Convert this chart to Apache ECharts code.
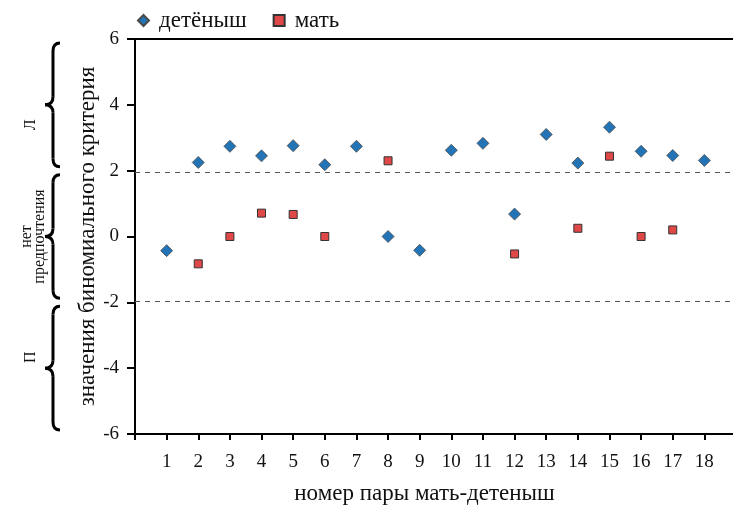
<!DOCTYPE html>
<html>
<head>
<meta charset="utf-8">
<script src="https://cdn.jsdelivr.net/npm/echarts@6/dist/echarts.min.js"></script>
<style>
html, body { margin: 0; padding: 0; background: #fff; }
#chart { width: 733px; height: 507px; }
</style>
</head>
<body>
<div id="chart"></div>
<script>
// pair numbers (mother-offspring)
const pairs = [1, 2, 3, 4, 5, 6, 7, 8, 9, 10, 11, 12, 13, 14, 15, 16, 17, 18];
// binomial test values, offspring
const cubValues = [-0.43, 2.25, 2.74, 2.45, 2.76, 2.18, 2.74, 0.0, -0.42, 2.62, 2.83, 0.68, 3.10, 2.23, 3.32, 2.59, 2.46, 2.31];
// binomial test values, mother (null = no value)
const motherValues = [null, -0.83, 0.0, 0.71, 0.67, 0.0, null, 2.30, null, null, null, -0.53, null, 0.25, 2.44, 0.0, 0.20, null];
// y-axis ticks
const yTicks = [-6, -4, -2, 0, 2, 4, 6];
// significance thresholds
const thresholds = [1.96, -1.96];
// preference zones on the left: [from, to, label]
const zones = [
  [6, 2, 'Л'],
  [2, -2, 'нет\nпредпочтения'],
  [-2, -6, 'П']
];

const FONT = '"Liberation Serif", "Times New Roman", serif';

function toPoints(vals) {
  const out = [];
  vals.forEach((v, i) => { if (v !== null) out.push([pairs[i], v]); });
  return out;
}

const chart = echarts.init(document.getElementById('chart'));

chart.setOption({
  animation: false,
  textStyle: { fontFamily: FONT },
  legend: {
    left: 132,
    top: 4,
    itemWidth: 11,
    itemHeight: 11,
    itemGap: 26,
    textStyle: { fontFamily: FONT, fontSize: 23, color: '#111', padding: [0, 0, 0, 5] },
    data: [
      { name: 'детёныш', icon: 'diamond' },
      { name: 'мать', icon: 'rect' }
    ]
  },
  grid: { left: 135, top: 39, right: -3, bottom: 73, containLabel: false, outerBoundsMode: 'none' },
  xAxis: [{
    type: 'value',
    min: 0,
    max: pairs.length + 1,
    interval: 1,
    name: 'номер пары мать-детеныш',
    nameLocation: 'middle',
    nameGap: 48,
    nameMoveOverlap: false,
    nameTextStyle: { fontFamily: FONT, fontSize: 23, color: '#111', padding: [0, 22, 0, 0] },
    axisLine: { onZero: false, lineStyle: { color: '#000', width: 2 } },
    axisTick: { length: 6, lineStyle: { color: '#000', width: 2 } },
    splitLine: { show: false },
    axisLabel: {
      fontFamily: FONT, fontSize: 19, color: '#111', margin: 19,
      formatter: v => (pairs.indexOf(v) >= 0 ? String(v) : '')
    }
  }, {
    type: 'value',
    position: 'top',
    min: 0,
    max: pairs.length + 1,
    axisLine: { show: true, onZero: false, lineStyle: { color: '#000', width: 2 } },
    axisTick: { show: false },
    axisLabel: { show: false },
    splitLine: { show: false }
  }],
  yAxis: {
    type: 'value',
    min: yTicks[0],
    max: yTicks[yTicks.length - 1],
    interval: 2,
    name: 'значения биномиального критерия',
    nameLocation: 'middle',
    nameGap: 36,
    nameMoveOverlap: false,
    nameTextStyle: { fontFamily: FONT, fontSize: 23, color: '#111' },
    axisLine: { onZero: false, lineStyle: { color: '#000', width: 2 } },
    axisTick: { length: 8, lineStyle: { color: '#000', width: 2 } },
    splitLine: { show: false },
    axisLabel: { fontFamily: FONT, fontSize: 19, color: '#111', margin: 16 }
  },
  series: [{
    name: 'детёныш',
    type: 'scatter',
    symbol: 'diamond',
    symbolSize: 12,
    itemStyle: { color: '#2374b6', borderColor: '#4a4a4a', borderWidth: 0.8, opacity: 1 },
    data: toPoints(cubValues),
    z: 3,
    markLine: {
      silent: true,
      symbol: 'none',
      label: { show: false },
      lineStyle: { color: '#555', type: [5, 5], width: 1 },
      data: thresholds.map(t => ({ yAxis: t }))
    }
  }, {
    name: 'мать',
    type: 'scatter',
    symbol: 'rect',
    symbolSize: 8,
    itemStyle: { color: '#e04848', borderColor: '#333', borderWidth: 1, opacity: 1 },
    data: toPoints(motherValues),
    z: 4
  }]
});

// curly braces with zone labels left of the y axis
const braceStyle = { stroke: '#000', lineWidth: 3, fill: null };
function braceParts(x, y1, y2) {
  const tipX = x - 8, endX = x + 7, r = 8;
  const mid = (y1 + y2) / 2;
  const curve = (x1, yy1, cx, cy, x2, yy2) => ({
    type: 'bezierCurve',
    shape: { x1: x1, y1: yy1, cpx1: cx, cpy1: cy, x2: x2, y2: yy2 },
    style: braceStyle
  });
  const line = (yy1, yy2) => ({
    type: 'line',
    shape: { x1: x, y1: yy1, x2: x, y2: yy2 },
    style: braceStyle
  });
  return [
    curve(endX, y1, x, y1, x, y1 + r),
    line(y1 + r, mid - r),
    curve(x, mid - r, x, mid, tipX, mid),
    curve(tipX, mid, x, mid, x, mid + r),
    line(mid + r, y2 - r),
    curve(x, y2 - r, x, y2, endX, y2)
  ];
}

// vertical shift of each zone label relative to its brace tip
const labelShift = [20, 0, -11];

const graphics = [];
zones.forEach(([from, to, label], i) => {
  const yA = chart.convertToPixel({ yAxisIndex: 0 }, from) + 4;
  const yB = chart.convertToPixel({ yAxisIndex: 0 }, to) - 4;
  braceParts(53, yA, yB).forEach(p => graphics.push(p));
  graphics.push({
    type: 'text',
    x: label.length === 1 ? 31 : 33,
    y: (yA + yB) / 2 + labelShift[i],
    rotation: Math.PI / 2,
    style: {
      text: label,
      font: '16px ' + FONT,
      fill: '#111',
      align: 'center',
      verticalAlign: 'middle',
      lineHeight: 13
    }
  });
});
chart.setOption({ graphic: graphics });
</script>
</body>
</html>
